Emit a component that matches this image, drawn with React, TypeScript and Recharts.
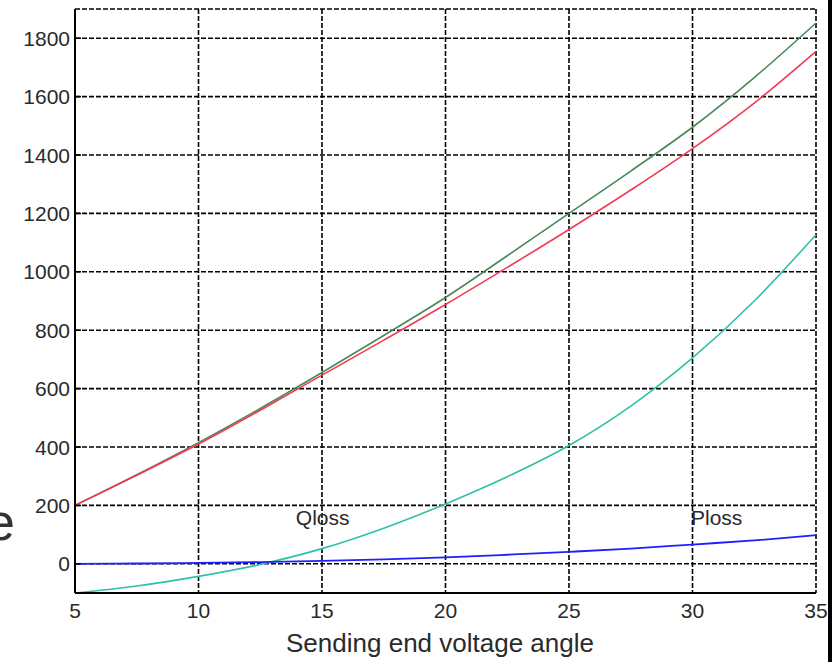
import React from 'react';
import {
  LineChart,
  Line,
  XAxis,
  YAxis,
  CartesianGrid,
  ReferenceDot,
} from 'recharts';

// Sending end voltage angle (degrees)
const angle = [5, 7.5, 10, 12.5, 15, 17.5, 20, 22.5, 25, 27.5, 30, 32.5, 35];
// Sending end power (green)
const sendPower = [200, 305, 415, 532, 655, 782, 912, 1055, 1200, 1345, 1495, 1665, 1852];
// Receiving end power (red)
const recvPower = [200, 303, 410, 526, 646, 766, 888, 1015, 1145, 1280, 1422, 1578, 1755];
// Reactive power loss
const qLoss = [-100, -76, -43, -2, 52, 122, 205, 298, 405, 540, 705, 900, 1127];
// Active power loss
const pLoss = [0, 1, 3, 6, 10, 15, 22, 31, 41, 52, 66, 80, 98];

const xTicks = [5, 10, 15, 20, 25, 30, 35];
const yTicks = [0, 200, 400, 600, 800, 1000, 1200, 1400, 1600, 1800];

const data = angle.map((a, i) => ({
  angle: a,
  send: sendPower[i],
  recv: recvPower[i],
  qloss: qLoss[i],
  ploss: pLoss[i],
}));

const FONT = '"Liberation Sans", Arial, Helvetica, sans-serif';
const TEXT = '#2a2a2a';

const YTick = (props: any) => {
  const { x, y, payload } = props;
  return (
    <g>
      <line x1={x} y1={y} x2={x + 6} y2={y} stroke="#000" strokeWidth={1.5} />
      <text
        x={x - 5}
        y={y}
        textAnchor="end"
        dominantBaseline="central"
        fontFamily={FONT}
        fontSize={21}
        fill={TEXT}
      >
        {payload.value}
      </text>
    </g>
  );
};

const RightTick = (props: any) => {
  const { x, y } = props;
  return <line x1={x - 6} y1={y} x2={x} y2={y} stroke="#000" strokeWidth={1.5} />;
};

const XTick = (props: any) => {
  const { x, y, payload } = props;
  return (
    <text
      x={x}
      y={y + 17}
      textAnchor="middle"
      dominantBaseline="central"
      fontFamily={FONT}
      fontSize={21}
      fill={TEXT}
    >
      {payload.value}
    </text>
  );
};

const NoTick = () => <g />;

export default function App() {
  return (
    <div style={{ position: 'absolute', left: 0, top: 0, width: 837, height: 662, background: '#fff', overflow: 'hidden' }}>
      <LineChart
        width={837}
        height={662}
        data={data}
        margin={{ top: 9, right: 21, bottom: 0, left: 0 }}
      >
        <CartesianGrid
          stroke="#000"
          strokeWidth={1.6}
          strokeDasharray="5 2"
          xAxisId="main"
          yAxisId="main"
        />
        <XAxis
          xAxisId="main"
          dataKey="angle"
          type="number"
          domain={[5, 35]}
          ticks={xTicks}
          height={69}
          tickSize={0}
          tickMargin={0}
          tickLine={false}
          tick={<XTick />}
          axisLine={{ stroke: '#000', strokeWidth: 2 }}
          interval={0}
        />
        <XAxis
          xAxisId="top"
          orientation="top"
          type="number"
          domain={[5, 35]}
          ticks={xTicks}
          height={0}
          tickSize={0}
          tickMargin={0}
          tickLine={false}
          tick={<NoTick />}
          axisLine={{ stroke: '#000', strokeWidth: 2 }}
        />
        <YAxis
          yAxisId="main"
          type="number"
          domain={[-100, 1900]}
          ticks={yTicks}
          width={75}
          tickSize={0}
          tickMargin={0}
          tickLine={false}
          tick={<YTick />}
          axisLine={{ stroke: '#000', strokeWidth: 2 }}
          interval={0}
        />
        <YAxis
          yAxisId="right"
          orientation="right"
          type="number"
          domain={[-100, 1900]}
          ticks={yTicks}
          width={0}
          tickSize={0}
          tickMargin={0}
          tickLine={false}
          tick={<RightTick />}
          axisLine={{ stroke: '#000', strokeWidth: 2 }}
          interval={0}
        />
        <Line xAxisId="main" yAxisId="main" type="monotone" dataKey="send" stroke="#4a8858" strokeWidth={1.6} dot={false} isAnimationActive={false} />
        <Line xAxisId="main" yAxisId="main" type="monotone" dataKey="recv" stroke="#f23a55" strokeWidth={1.6} dot={false} isAnimationActive={false} />
        <Line xAxisId="main" yAxisId="main" type="monotone" dataKey="qloss" stroke="#2fc0a6" strokeWidth={1.6} dot={false} isAnimationActive={false} />
        <Line xAxisId="main" yAxisId="main" type="monotone" dataKey="ploss" stroke="#1f1fff" strokeWidth={1.8} dot={false} isAnimationActive={false} />
        <ReferenceDot
          xAxisId="main"
          yAxisId="main"
          x={13.9}
          y={160}
          r={1}
          fill="none"
          stroke="none"
          label={{ value: 'Qloss', position: 'right', offset: 0, fontFamily: FONT, fontSize: 21, fill: TEXT }}
        />
        <ReferenceDot
          xAxisId="main"
          yAxisId="main"
          x={29.9}
          y={160}
          r={1}
          fill="none"
          stroke="none"
          label={{ value: 'Ploss', position: 'right', offset: 0, fontFamily: FONT, fontSize: 21, fill: TEXT }}
        />
      </LineChart>
      <div
        style={{
          position: 'absolute',
          left: 440,
          top: 643,
          transform: 'translate(-50%, -50%)',
          fontFamily: FONT,
          fontSize: 26,
          color: TEXT,
          whiteSpace: 'nowrap',
        }}
      >
        Sending end voltage angle
      </div>
      <div
        style={{
          position: 'absolute',
          left: -14,
          top: 496,
          fontFamily: FONT,
          fontSize: 52,
          color: '#333',
          lineHeight: 1,
        }}
      >
        e
      </div>
      <div style={{ position: 'absolute', left: 828, top: 0, width: 4, height: 662, background: '#000' }} />
    </div>
  );
}
